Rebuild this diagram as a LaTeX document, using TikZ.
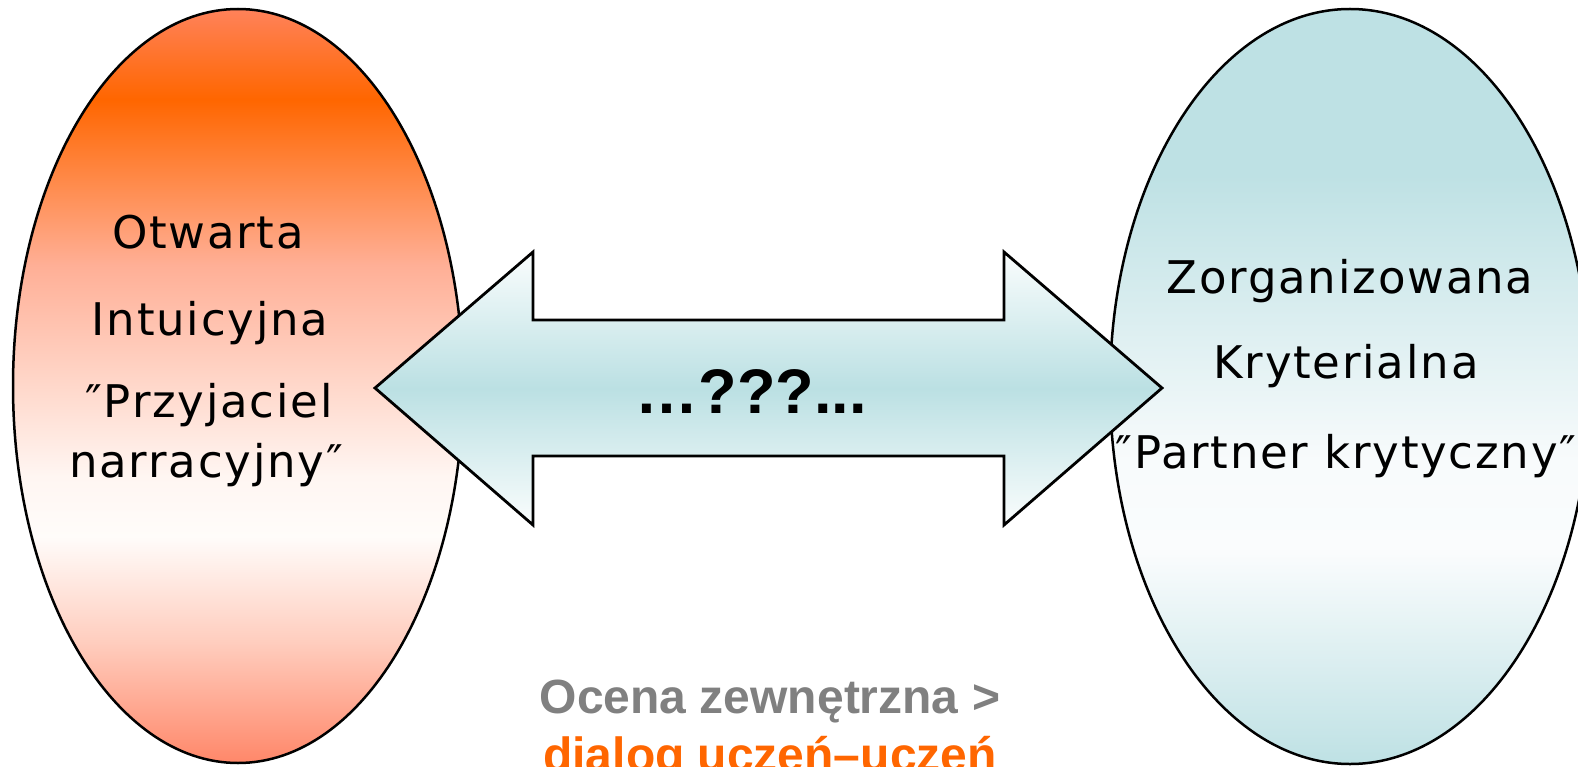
\documentclass[tikz,border=0pt]{standalone}
\usepackage{fontspec}
\newfontfamily\ellfont{DejaVu Sans}[LetterSpace=4]
\newfontfamily\arialfont{Liberation Sans}
\usetikzlibrary{shapes.geometric}
\definecolor{orangeC}{RGB}{255,102,0}
\definecolor{grayC}{RGB}{128,128,128}
\definecolor{lA}{RGB}{255,135,105}
\definecolor{lB}{RGB}{255,205,190}
\definecolor{lC}{RGB}{255,252,250}
\definecolor{lD}{RGB}{255,246,242}
\definecolor{lE}{RGB}{255,175,150}
\definecolor{lF}{RGB}{255,102,0}
\definecolor{lG}{RGB}{255,130,90}
\definecolor{rA}{RGB}{190,225,228}
\definecolor{rB}{RGB}{250,252,253}
\definecolor{rC}{RGB}{248,251,252}
\definecolor{aW}{RGB}{250,253,253}
\definecolor{aB}{RGB}{187,224,227}
\pgfdeclareverticalshading{leftsh}{100bp}{%
 color(0bp)=(lA); color(25bp)=(lA); color(33bp)=(lB); color(40bp)=(lC);
 color(44bp)=(lD); color(58bp)=(lE); color(69bp)=(lF); color(75bp)=(lG);
 color(100bp)=(lG)}
\pgfdeclareverticalshading{rightsh}{100bp}{%
 color(0bp)=(rA); color(25bp)=(rA); color(39bp)=(rB); color(45bp)=(rC);
 color(64bp)=(rA); color(75bp)=(rA); color(100bp)=(rA)}
\pgfdeclareverticalshading{arrowsh}{100bp}{%
 color(0bp)=(aW); color(25bp)=(aW); color(50bp)=(aB); color(75bp)=(aW);
 color(100bp)=(aW)}
\tikzset{
  ellbox/.style={ellipse, draw=black, line width=2.5pt, inner sep=0pt},
  elltext/.style={anchor=base, inner sep=0pt, font=\ellfont\fontsize{45}{54}\selectfont},
  midtext/.style={anchor=base, inner sep=0pt, font=\arialfont\bfseries\fontsize{63}{70}\selectfont},
  bottext/.style={anchor=base, inner sep=0pt, font=\arialfont\bfseries\fontsize{48}{56}\selectfont}
}
\begin{document}
\begin{tikzpicture}[x=1pt,y=-1pt]
\useasboundingbox (0,0) rectangle (1578,767);
\clip (0,0) rectangle (1578,767);
\fill[white] (0,0) rectangle (1578,767);
% ellipses
\node[ellbox, shading=leftsh, minimum width=450pt, minimum height=754pt] (left) at (238,386) {};
\node[ellbox, shading=rightsh, minimum width=480pt, minimum height=755pt] (right) at (1350,386.5) {};
% double arrow
\path[draw=black, line width=2.8pt, line join=miter, shading=arrowsh]
  (375,388) -- (533,252) -- (533,320) -- (1004,320) -- (1004,252) -- (1162,388)
  -- (1004,525) -- (1004,456) -- (533,456) -- (533,525) -- cycle;
% left texts
\node[elltext] (l1) at (208,248) {Otwarta};
\node[elltext] (l2) at (210,335) {Intuicyjna};
\node[elltext] (l3) at (209,417) {″Przyjaciel};
\node[elltext] (l4) at (206,477) {narracyjny″};
% right texts
\node[elltext] (r1) at (1350,293) {Zorganizowana};
\node[elltext] (r2) at (1346,378) {Kryterialna};
\node[elltext] (r3) at (1346,468) {″Partner krytyczny″};
% middle
\node[midtext] (mid) at (751,413) {…???...};
% bottom
\node[bottext, text=grayC] (b1) at (770,713) {Ocena zewnętrzna >};
\node[bottext, text=orangeC] (b2) at (770,771) {dialog uczeń–uczeń};
\end{tikzpicture}
\end{document}
